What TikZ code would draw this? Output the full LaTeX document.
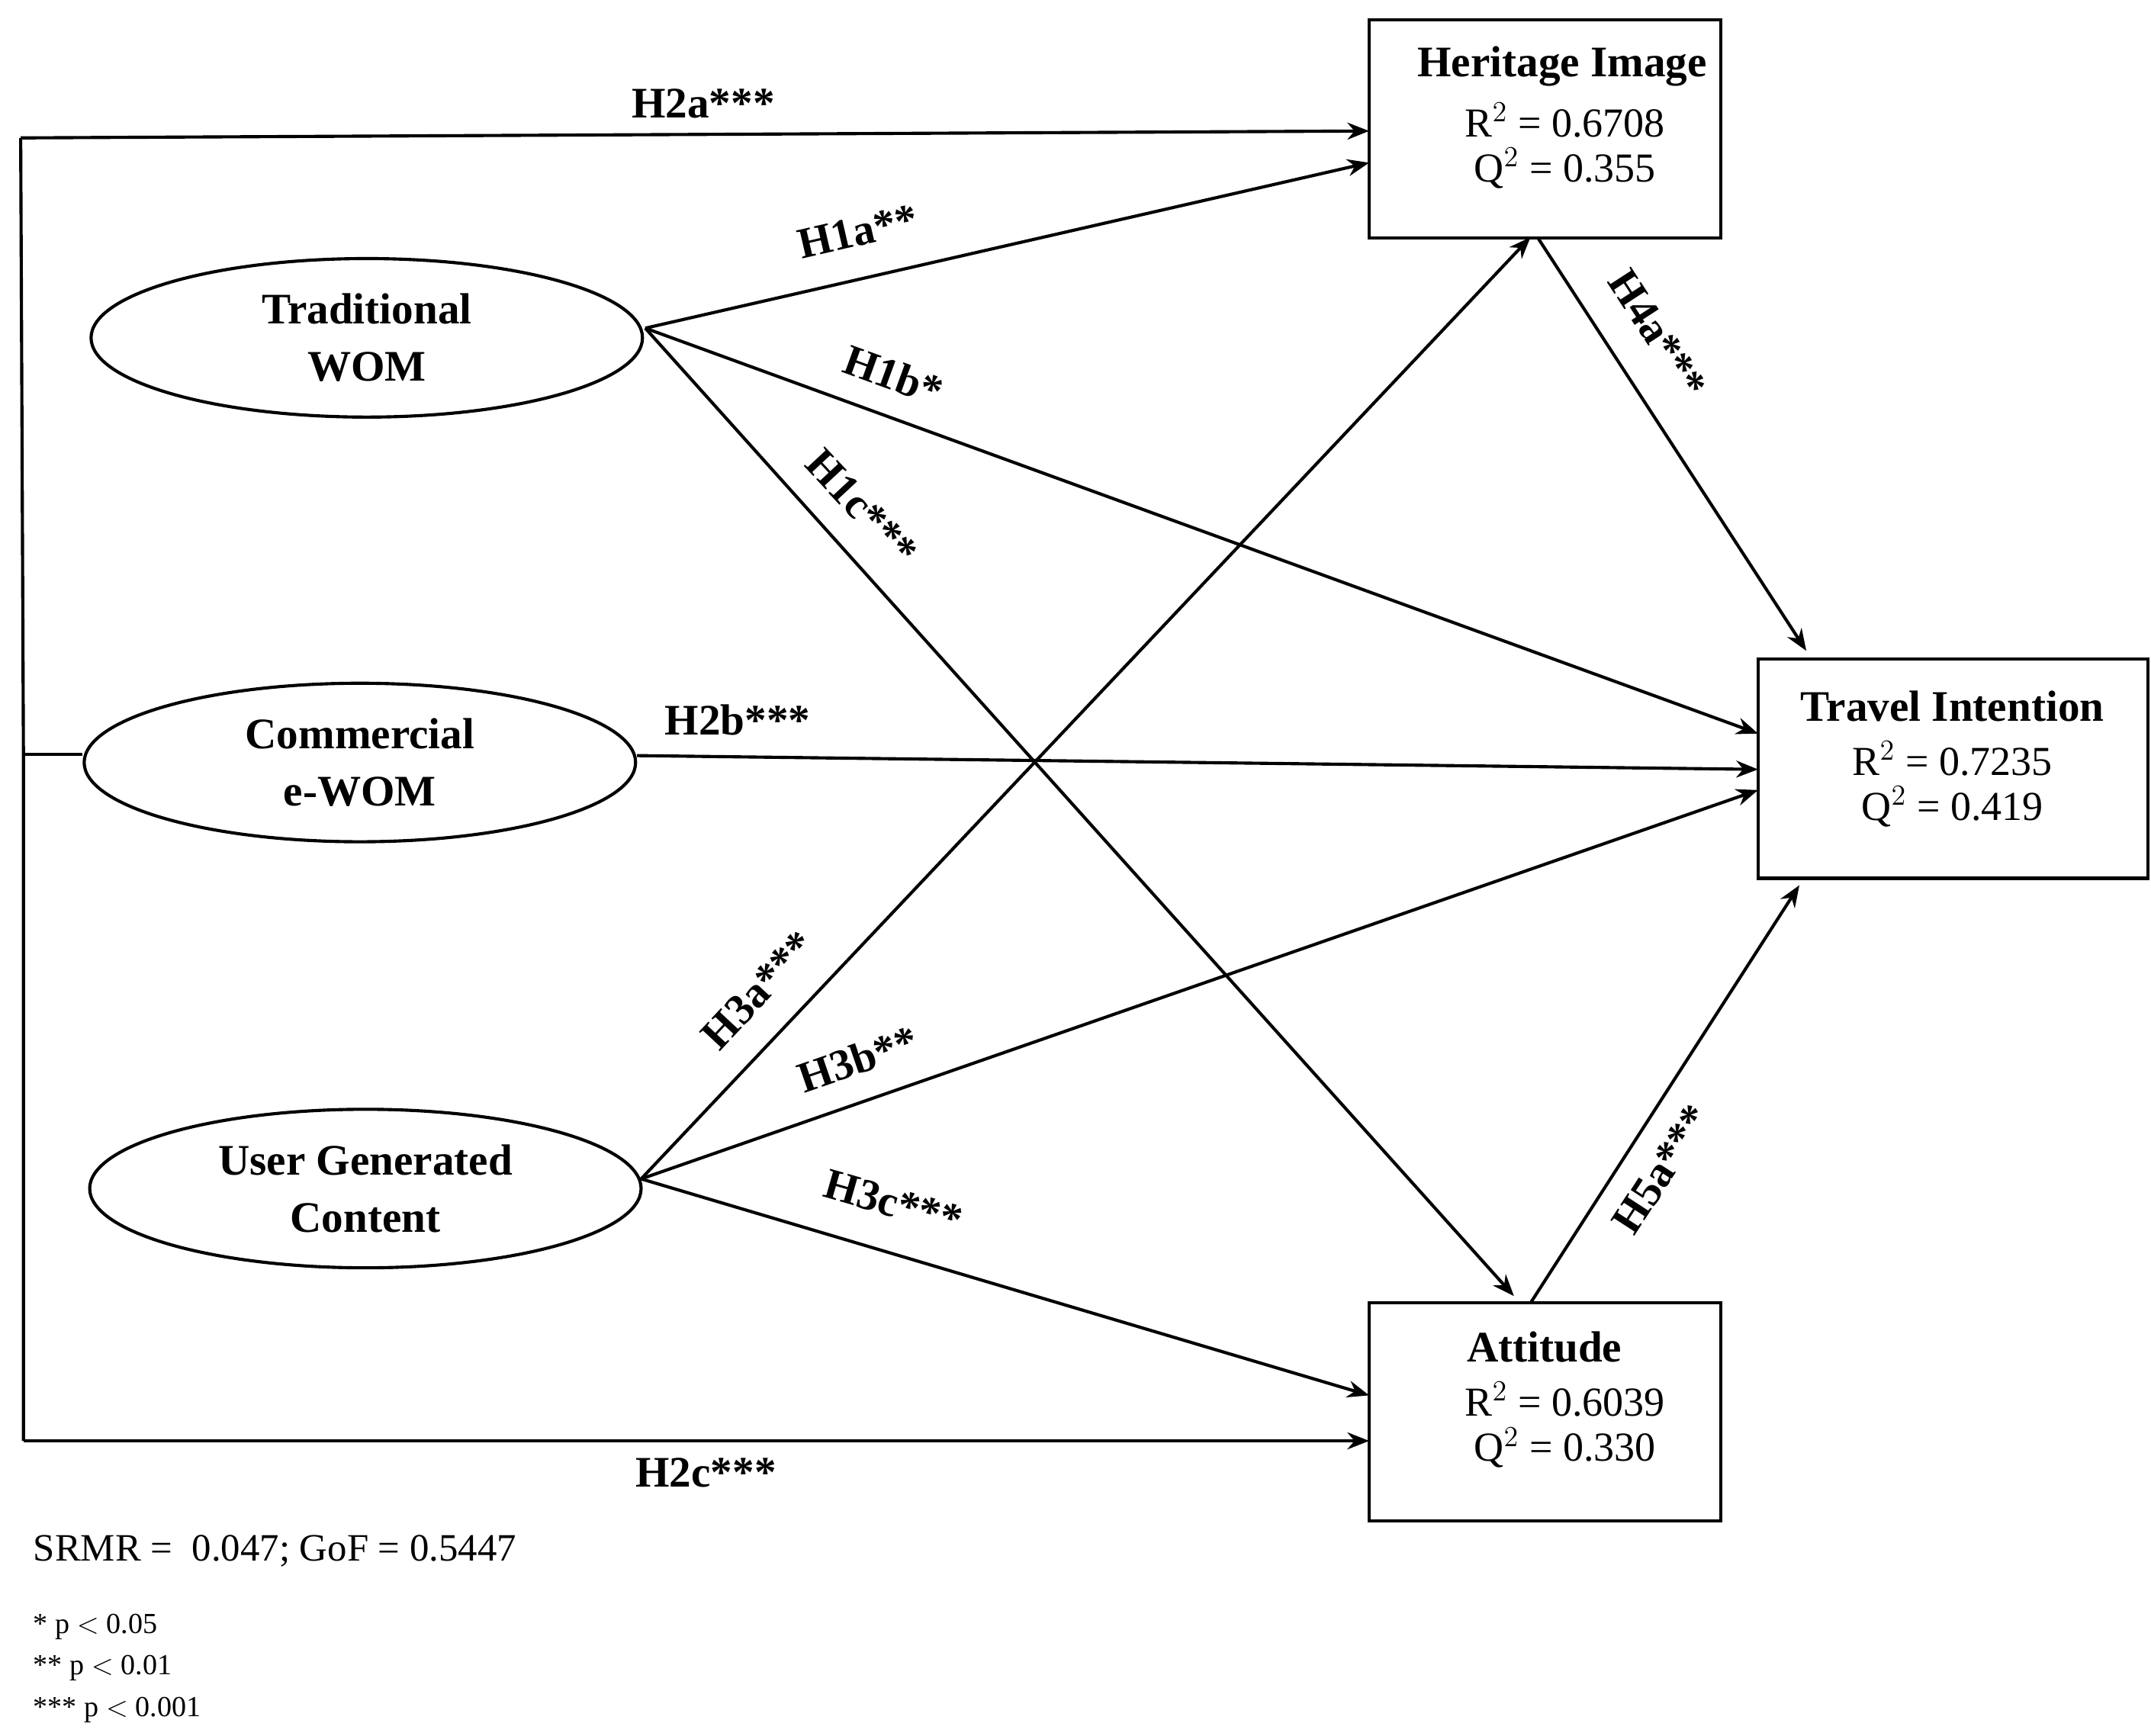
\documentclass[tikz,border=0pt]{standalone}
\usepackage{fontspec}
\setmainfont{Liberation Serif}
\usetikzlibrary{arrows.meta,shapes.geometric}
\begin{document}
\begin{tikzpicture}[x=0.02cm,y=-0.02cm,
  box/.style={draw,line width=1.3pt,minimum width=5.1cm,minimum height=3.16cm,inner sep=0pt},
  ell/.style={draw,ellipse,line width=1.3pt,minimum width=8cm,minimum height=2.3cm,align=center,font=\fontsize{18}{23.5}\selectfont\bfseries},
  arr/.style={line width=1.3pt,-{Stealth[length=9pt,width=7pt]}},
  ln/.style={line width=1.3pt},
  lab/.style={font=\fontsize{18}{22}\selectfont\bfseries,inner sep=1pt},
  tt/.style={font=\fontsize{18}{22}\selectfont\bfseries},
  vv/.style={font=\fontsize{17}{22}\selectfont}]
\useasboundingbox (0,0) rectangle (1560,1259);
% boxes
\node[box] (HI) at (1120.5,93.5) {};
\node[box,minimum width=5.66cm,minimum height=3.18cm] (TI) at (1416.5,557.5) {};
\node[box] (AT) at (1120.5,1024) {};
\node[tt] (hit) at (1133,48) {Heritage Image};
\node[vv] (hir) at (1135,87) {R$^2$ = 0.6708};
\node[vv] (hiq) at (1135,122) {Q$^2$ = 0.355};
\node[tt] (tit) at (1416,512) {Travel Intention};
\node[vv] (tir) at (1416,550) {R$^2$ = 0.7235};
\node[vv] (tiq) at (1416,585) {Q$^2$ = 0.419};
\node[tt] (att) at (1120,977) {Attitude};
\node[vv] (atr) at (1135,1015) {R$^2$ = 0.6039};
\node[vv] (atq) at (1135,1050) {Q$^2$ = 0.330};
% ellipses
\node[ell] (TW) at (266,245) {Traditional\\WOM};
\node[ell] (CW) at (261,553) {Commercial\\e-WOM};
\node[ell] (UG) at (265,862) {User Generated\\Content};
% coordinates
\coordinate (a1) at (468,238);
\coordinate (c1) at (462,548);
\coordinate (u1) at (465,855);
\coordinate (hi1) at (993,118);
\coordinate (hi2) at (1110,172);
\coordinate (hi3) at (1115,172);
\coordinate (ti1) at (1275,532);
\coordinate (ti2) at (1275,558);
\coordinate (ti3) at (1275,573);
\coordinate (ti4) at (1310,472);
\coordinate (ti5) at (1305,642);
\coordinate (at1) at (1098,940);
\coordinate (at2) at (993,1012);
\coordinate (at3) at (1110,945);
\coordinate (L0) at (15,100);
\coordinate (L1) at (17,547);
\coordinate (L2) at (17,1045);
\coordinate (hi0) at (993,95);
\coordinate (at0) at (993,1045);
\coordinate (cl) at (60,547);
% left frame
\draw[ln] (cl) -- (L1);
\draw[arr] (L0) -- (hi0);
\draw[ln] (L0) -- (L1) -- (L2);
\draw[arr] (L2) -- (at0);
% paths
\draw[arr] (a1) -- (hi1);
\draw[arr] (a1) -- (ti1);
\draw[arr] (a1) -- (at1);
\draw[arr] (c1) -- (ti2);
\draw[arr] (u1) -- (hi2);
\draw[arr] (u1) -- (ti3);
\draw[arr] (u1) -- (at2);
\draw[arr] (hi3) -- (ti4);
\draw[arr] (at3) -- (ti5);
% labels
\node[lab] (l2a) at (510,75) {H2a***};
\node[lab,rotate=13] (l1a) at (622,168) {H1a**};
\node[lab,rotate=-20] (l1b) at (648,272) {H1b*};
\node[lab,rotate=-47] (l1c) at (625,368) {H1c***};
\node[lab] (l2b) at (535,522) {H2b***};
\node[lab,rotate=47] (l3a) at (550,718) {H3a***};
\node[lab,rotate=19] (l3b) at (622,768) {H3b**};
\node[lab,rotate=-16] (l3c) at (648,872) {H3c***};
\node[lab] (l2c) at (512,1068) {H2c***};
\node[lab,rotate=-57] (l4a) at (1202,242) {H4a***};
\node[lab,rotate=57] (l5a) at (1205,848) {H5a***};
% notes
\node[anchor=west,font=\fontsize{16}{19}\selectfont] (srmr) at (18,1125) {SRMR = \ 0.047; GoF = 0.5447};
\node[anchor=west,font=\fontsize{12}{15}\selectfont] (p1) at (18,1180) {* p $<$ 0.05};
\node[anchor=west,font=\fontsize{12}{15}\selectfont] (p2) at (18,1210) {** p $<$ 0.01};
\node[anchor=west,font=\fontsize{12}{15}\selectfont] (p3) at (18,1240) {*** p $<$ 0.001};
\end{tikzpicture}
\end{document}
